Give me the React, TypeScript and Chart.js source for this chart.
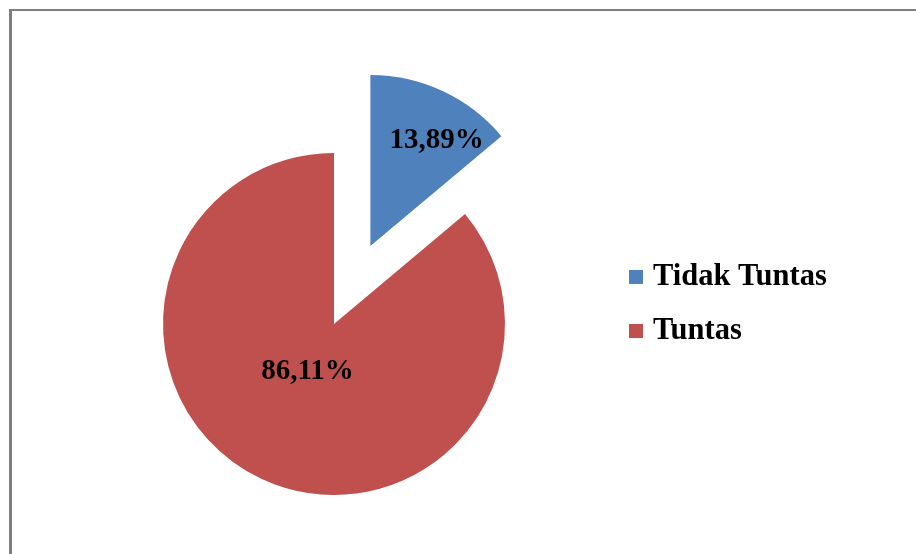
import React, { useEffect, useRef } from "react";
import { Chart, registerables } from "chart.js";

Chart.register(...registerables);

// ---- data ----
const categories: string[] = ["Tidak Tuntas", "Tuntas"];
const percentages: number[] = [13.89, 86.11];
const sliceColors: string[] = ["#4F81BD", "#C0504D"];

// ---- styling constants ----
const EXPLODE_PX = [86, 0];
const LABEL_RADIUS_FRAC = [0.73, 0.32];
const LABEL_ANGLE_SHIFT_DEG = [7, 4];
const LABEL_FONT = "bold 29px 'Liberation Serif', 'Times New Roman', serif";
const LEGEND_FONT = "bold 30.5px 'Liberation Serif', 'Times New Roman', serif";

const fmt = (v: number) => v.toFixed(2).replace(".", ",") + "%";

const explodePlugin = {
  id: "explodeSlices",
  afterDatasetsUpdate(chart: any) {
    const meta = chart.getDatasetMeta(0);
    meta.data.forEach((arc: any, i: number) => {
      const d = EXPLODE_PX[i] || 0;
      if (!d) return;
      const mid = (arc.startAngle + arc.endAngle) / 2;
      arc.x += Math.cos(mid) * d;
      arc.y += Math.sin(mid) * d;
    });
  },
};

const labelPlugin = {
  id: "sliceLabels",
  afterDatasetsDraw(chart: any) {
    const ctx = chart.ctx;
    const meta = chart.getDatasetMeta(0);
    const values = chart.data.datasets[0].data as number[];
    ctx.save();
    ctx.font = LABEL_FONT;
    ctx.fillStyle = "#000000";
    ctx.textAlign = "center";
    ctx.textBaseline = "middle";
    meta.data.forEach((arc: any, i: number) => {
      const mid =
        (arc.startAngle + arc.endAngle) / 2 +
        (LABEL_ANGLE_SHIFT_DEG[i] * Math.PI) / 180;
      const r = arc.outerRadius * LABEL_RADIUS_FRAC[i];
      ctx.fillText(fmt(values[i]), arc.x + Math.cos(mid) * r, arc.y + Math.sin(mid) * r);
    });
    ctx.restore();
  },
};

const legendPlugin = {
  id: "sideLegend",
  afterDraw(chart: any) {
    const ctx = chart.ctx;
    const labels = chart.data.labels as string[];
    const bg = chart.data.datasets[0].backgroundColor as string[];
    const boxX = 629;
    const textX = 653;
    const firstY = 277;
    const gap = 54;
    const box = 14;
    ctx.save();
    ctx.font = LEGEND_FONT;
    ctx.textAlign = "left";
    ctx.textBaseline = "middle";
    labels.forEach((lab, i) => {
      const y = firstY + i * gap;
      ctx.fillStyle = bg[i];
      ctx.fillRect(boxX, y - box / 2, box, box);
      ctx.fillStyle = "#000000";
      ctx.fillText(lab, textX, y);
    });
    ctx.restore();
  },
};

export default function App() {
  const canvasRef = useRef<HTMLCanvasElement | null>(null);

  useEffect(() => {
    if (!canvasRef.current) return;
    const chart = new Chart(canvasRef.current, {
      type: "pie",
      data: {
        labels: categories,
        datasets: [
          {
            data: percentages,
            backgroundColor: sliceColors,
            borderWidth: 0,
          },
        ],
      },
      options: {
        responsive: false,
        animation: false,
        devicePixelRatio: 1,
        radius: 171,
        layout: { padding: { left: 0, right: 248, top: 94, bottom: 0 } },
        plugins: {
          legend: { display: false },
          tooltip: { enabled: false },
        },
      } as any,
      plugins: [explodePlugin, labelPlugin, legendPlugin],
    });
    return () => chart.destroy();
  }, []);

  return (
    <div
      style={{
        position: "fixed",
        left: 0,
        top: 0,
        width: 916,
        height: 554,
        background: "#ffffff",
        overflow: "hidden",
      }}
    >
      <div
        style={{
          position: "absolute",
          left: 9,
          top: 9,
          width: 1000,
          height: 700,
          borderLeft: "3px solid #7f7f7f",
          borderTop: "2px solid #7f7f7f",
          boxSizing: "border-box",
        }}
      />
      <canvas
        ref={canvasRef}
        width={916}
        height={554}
        style={{ position: "absolute", left: 0, top: 0, width: 916, height: 554 }}
      />
    </div>
  );
}
